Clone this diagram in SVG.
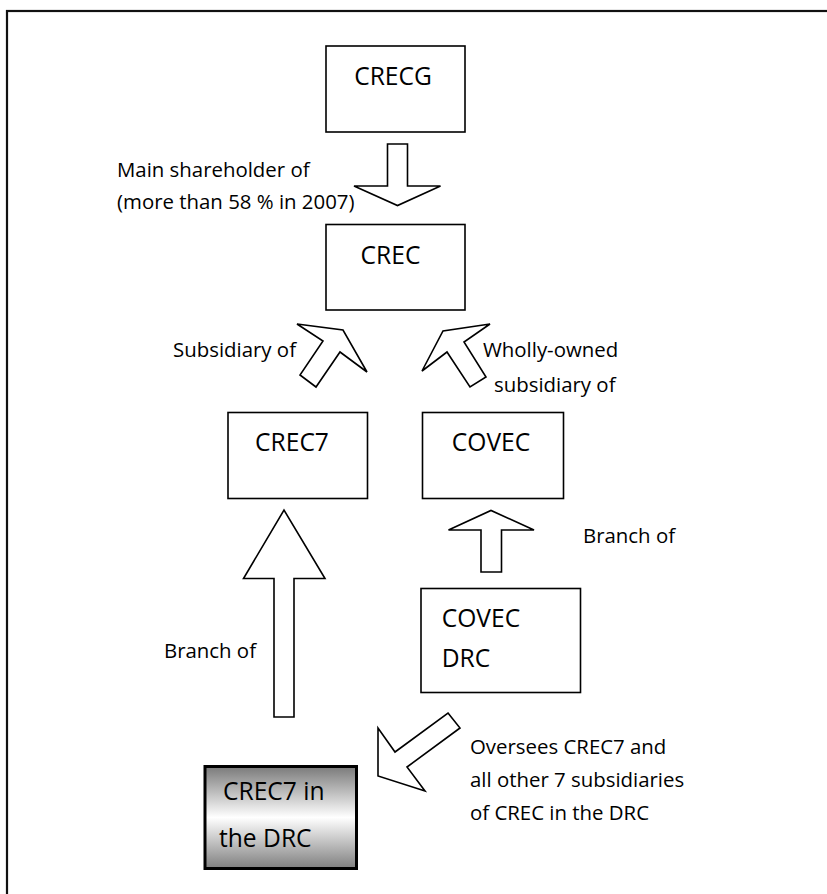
<svg xmlns="http://www.w3.org/2000/svg" width="827" height="894" viewBox="0 0 827 894">
<style>
.frame{fill:none;stroke:#111;stroke-width:2.2}
.box{fill:#fff;stroke:#000;stroke-width:1.6}
.arrow{fill:#fff;stroke:#000;stroke-width:1.6;stroke-linejoin:miter}
.lbl{font-family:"Open Sans",sans-serif;font-size:20.4px;fill:#000}
.big{font-family:"Open Sans",sans-serif;font-size:24.6px;fill:#000}
</style>
<defs>
<linearGradient id="g" x1="0" y1="0" x2="0" y2="1">
<stop offset="0" stop-color="#7a7a7a"/>
<stop offset="0.5" stop-color="#ffffff"/>
<stop offset="1" stop-color="#7f7f7f"/>
</linearGradient>
</defs>
<rect class="frame" x="7" y="11" width="840" height="900"/>
<g id="connectors">
<polygon class="arrow" points="387.5,144 407.5,144 407.5,186 440.5,186 397.5,205.5 354,186 387.5,186"/>
<polygon class="arrow" points="297,324 343,330 367,372 340,352 316,387 300,375 323,341"/>
<polygon class="arrow" points="490,324 443,331 422,371 447,352 470,387 486,377 464,342"/>
<polygon class="arrow" points="274,717 274,578.5 243.5,578.5 284,510 325,578.5 294,578.5 294,717"/>
<polygon class="arrow" points="481,572 481,530 448.5,530 491,510.5 534,530 501.5,530 501.5,572"/>
<polygon class="arrow" points="448,713 460,728 407,767 425,791 378,776 378,728 395,752"/>
</g>
<g id="CRECG">
<rect class="box" x="326" y="46" width="139" height="86"/>
<text class="big" x="393" y="85" text-anchor="middle">CRECG</text>
</g>
<g id="CREC">
<rect class="box" x="326" y="224.5" width="139" height="85.5"/>
<text class="big" x="390.5" y="263.5" text-anchor="middle">CREC</text>
</g>
<g id="CREC7">
<rect class="box" x="228" y="412.5" width="139.5" height="86"/>
<text class="big" x="292" y="450.7" text-anchor="middle">CREC7</text>
</g>
<g id="COVEC">
<rect class="box" x="422.5" y="412.5" width="141" height="86"/>
<text class="big" x="491" y="450.7" text-anchor="middle">COVEC</text>
</g>
<g id="COVEC_DRC">
<rect class="box" x="421" y="588.5" width="159.5" height="104"/>
<text class="big" x="441.7" y="626.7">COVEC</text>
<text class="big" x="441.7" y="667.3">DRC</text>
</g>
<g id="CREC7_DRC">
<rect x="205" y="766.5" width="151.5" height="102" fill="url(#g)" stroke="#000" stroke-width="3"/>
<text class="big" x="223" y="800">CREC7 in</text>
<text class="big" x="219" y="846.7">the DRC</text>
</g>
<g id="labels">
<text class="lbl" x="117" y="176.5">Main shareholder of</text>
<text class="lbl" x="117" y="209">(more than 58 % in 2007)</text>
<text class="lbl" x="296" y="357" text-anchor="end">Subsidiary of</text>
<text class="lbl" x="483" y="357">Wholly-owned</text>
<text class="lbl" x="494" y="391.5">subsidiary of</text>
<text class="lbl" x="583" y="543">Branch of</text>
<text class="lbl" x="256" y="658" text-anchor="end">Branch of</text>
<text class="lbl" x="470" y="754">Oversees CREC7 and</text>
<text class="lbl" x="470" y="787">all other 7 subsidiaries</text>
<text class="lbl" x="470" y="820">of CREC in the DRC</text>
</g>
</svg>
